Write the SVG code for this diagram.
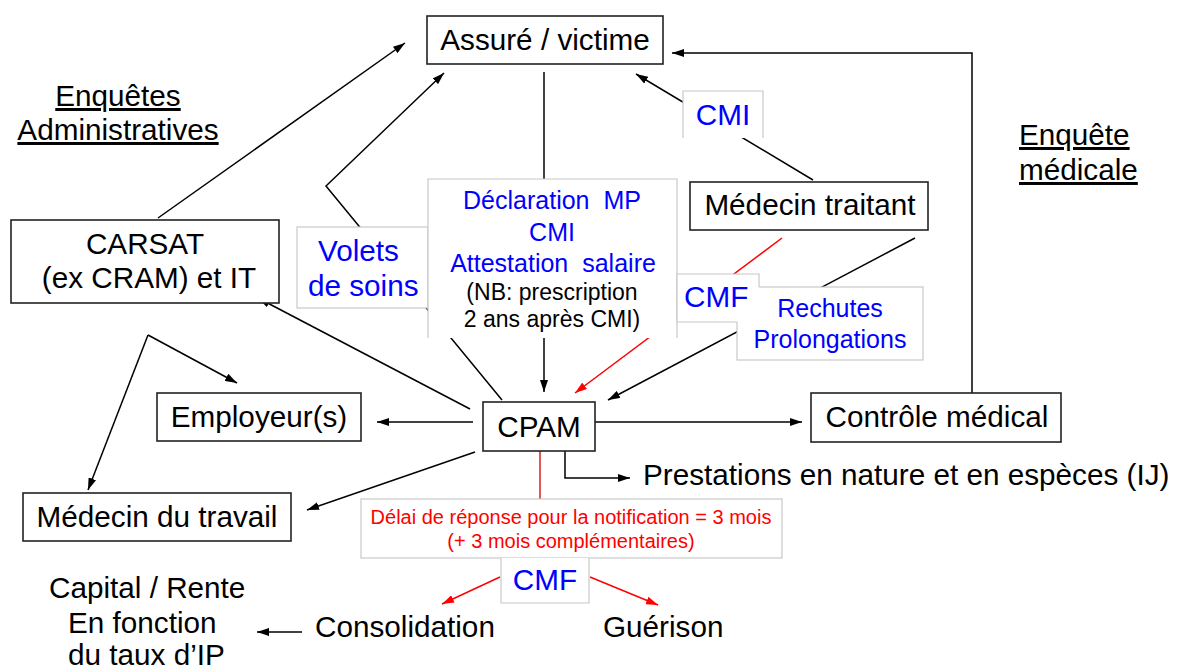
<svg xmlns="http://www.w3.org/2000/svg" width="1179" height="671" viewBox="0 0 1179 671">
<style>
text{font-family:"Liberation Sans",Arial,sans-serif;}
.t{font-size:29.7px;fill:#000;}
.c{text-anchor:middle;}
.b{fill:#0000ff;}
.node{fill:#fff;stroke:#222;stroke-width:1.6;}
.lbl{fill:#fff;stroke:none;}
.lb{fill:none;stroke:#c8c8c8;stroke-width:1.2;}
.u{text-decoration:underline;}
</style>
<defs>
<marker id="ah" viewBox="0 0 12 8" refX="12" refY="4" markerWidth="12" markerHeight="8" markerUnits="userSpaceOnUse" orient="auto"><path d="M0,0 L12,4 L0,8 z" fill="#000"/></marker>
<marker id="ahr" viewBox="0 0 12 8" refX="12" refY="4" markerWidth="12" markerHeight="8" markerUnits="userSpaceOnUse" orient="auto"><path d="M0,0 L12,4 L0,8 z" fill="#ff0000"/></marker>
</defs>
<rect width="1179" height="671" fill="#fff"/>

<g id="connectors" fill="none" stroke="#000" stroke-width="1.5">
<line x1="158" y1="218" x2="405" y2="43" marker-end="url(#ah)"/>
<polyline points="502,400 326,186 444,73" marker-end="url(#ah)"/>
<line x1="544" y1="72" x2="544" y2="392" marker-end="url(#ah)"/>
<line x1="813" y1="180" x2="636" y2="74" marker-end="url(#ah)"/>
<polyline points="972,393 972,53 672,53" marker-end="url(#ah)"/>
<line x1="782" y1="238" x2="575" y2="393" stroke="#ff0000" marker-end="url(#ahr)"/>
<line x1="915" y1="238" x2="608" y2="400" marker-end="url(#ah)"/>
<line x1="470" y1="409" x2="258" y2="298" marker-end="url(#ah)"/>
<line x1="473" y1="422" x2="377" y2="422" marker-end="url(#ah)"/>
<line x1="475" y1="452" x2="307" y2="510" marker-end="url(#ah)"/>
<polyline points="148,335 237,383" marker-end="url(#ah)"/>
<polyline points="148,335 88,490" marker-end="url(#ah)"/>
<line x1="595" y1="422" x2="802" y2="422" marker-end="url(#ah)"/>
<polyline points="565,451 565,478 630,478" marker-end="url(#ah)"/>
<line x1="540" y1="451" x2="540" y2="499" stroke="#d42020"/>
<line x1="500" y1="577" x2="442" y2="604" stroke="#ff0000" marker-end="url(#ahr)"/>
<line x1="590" y1="577" x2="658" y2="605" stroke="#ff0000" marker-end="url(#ahr)"/>
<line x1="302" y1="632" x2="257" y2="632" marker-end="url(#ah)"/>
</g>

<g id="label-volets">
<rect class="lbl" x="297" y="227" width="131" height="81"/>
<rect class="lb" x="297" y="227" width="131" height="81"/>
<text class="t b" x="318" y="261">Volets</text>
<text class="t b" x="308" y="296">de soins</text>
</g>
<g id="label-declaration">
<rect class="lbl" x="428" y="179" width="249" height="159"/>
<path class="lb" d="M428,338 V179 H677 V338"/>
<text class="b c" x="552" y="209" font-size="25" word-spacing="7">Déclaration MP</text>
<text class="b c" x="552" y="241" font-size="25">CMI</text>
<text class="b c" x="553" y="272" font-size="25" word-spacing="7">Attestation salaire</text>
<text class="c" x="552" y="300" font-size="23">(NB: prescription</text>
<text class="c" x="552" y="327" font-size="23">2 ans après CMI)</text>
</g>
<g id="label-rechutes">
<rect class="lbl" x="737" y="287" width="186" height="73"/>
<rect class="lb" x="737" y="287" width="186" height="73"/>
<text class="b c" x="830" y="317" font-size="25">Rechutes</text>
<text class="b c" x="830" y="348" font-size="25">Prolongations</text>
</g>
<g id="label-cmf1">
<rect class="lbl" x="677" y="274" width="82" height="48"/>
<path class="lb" d="M737,322 H677 V274 H759 V287"/>
<text class="t b" x="684" y="307">CMF</text>
</g>
<g id="label-cmi">
<rect class="lbl" x="683" y="91" width="80" height="47"/>
<path class="lb" d="M683,138 V91 H763 V138"/>
<text class="t b c" x="723" y="125">CMI</text>
</g>
<g id="label-delai">
<rect class="lbl" x="361" y="499" width="421" height="59"/>
<rect class="lb" x="361" y="499" width="421" height="59"/>
<text class="c" x="571" y="524" font-size="20" fill="#ff0000">Délai de réponse pour la notification = 3 mois</text>
<text class="c" x="571" y="548" font-size="20" fill="#ff0000">(+ 3 mois complémentaires)</text>
</g>
<g id="label-cmf2">
<rect class="lbl" x="501" y="558" width="88" height="45"/>
<path class="lb" d="M501,558 V603 H589 V558"/>
<text class="t b c" x="545" y="590">CMF</text>
</g>

<g id="node-assure">
<rect class="node" x="427" y="16" width="236" height="48"/>
<text class="t c" x="545" y="50">Assuré / victime</text>
</g>
<g id="node-medecin-traitant">
<rect class="node" x="690" y="182" width="238" height="48"/>
<text class="t c" x="810" y="215">Médecin traitant</text>
</g>
<g id="node-carsat">
<rect class="node" x="11" y="220" width="268" height="83"/>
<text class="t c" x="145" y="254">CARSAT</text>
<text class="t c" x="149" y="288">(ex CRAM) et IT</text>
</g>
<g id="node-employeur">
<rect class="node" x="157" y="393" width="204" height="48"/>
<text class="t c" x="259" y="427">Employeur(s)</text>
</g>
<g id="node-cpam">
<rect class="node" x="483" y="402" width="112" height="49"/>
<text class="t c" x="539" y="437">CPAM</text>
</g>
<g id="node-controle">
<rect class="node" x="811" y="393" width="250" height="49"/>
<text class="t c" x="937" y="427">Contrôle médical</text>
</g>
<g id="node-medecin-travail">
<rect class="node" x="23" y="493" width="268" height="48"/>
<text class="t c" x="157" y="527">Médecin du travail</text>
</g>

<g id="texts">
<text class="t c u" x="118" y="106">Enquêtes</text>
<text class="t c u" x="118" y="140">Administratives</text>
<text class="t u" x="1019" y="145">Enquête</text>
<text class="t u" x="1019" y="180">médicale</text>
<text class="t" x="643" y="485">Prestations en nature et en espèces (IJ)</text>
<text class="t" x="49" y="598">Capital / Rente</text>
<text class="t" x="68" y="633">En fonction</text>
<text class="t" x="68" y="665">du taux d’IP</text>
<text class="t" x="315" y="637">Consolidation</text>
<text class="t" x="603" y="637">Guérison</text>
</g>
</svg>
